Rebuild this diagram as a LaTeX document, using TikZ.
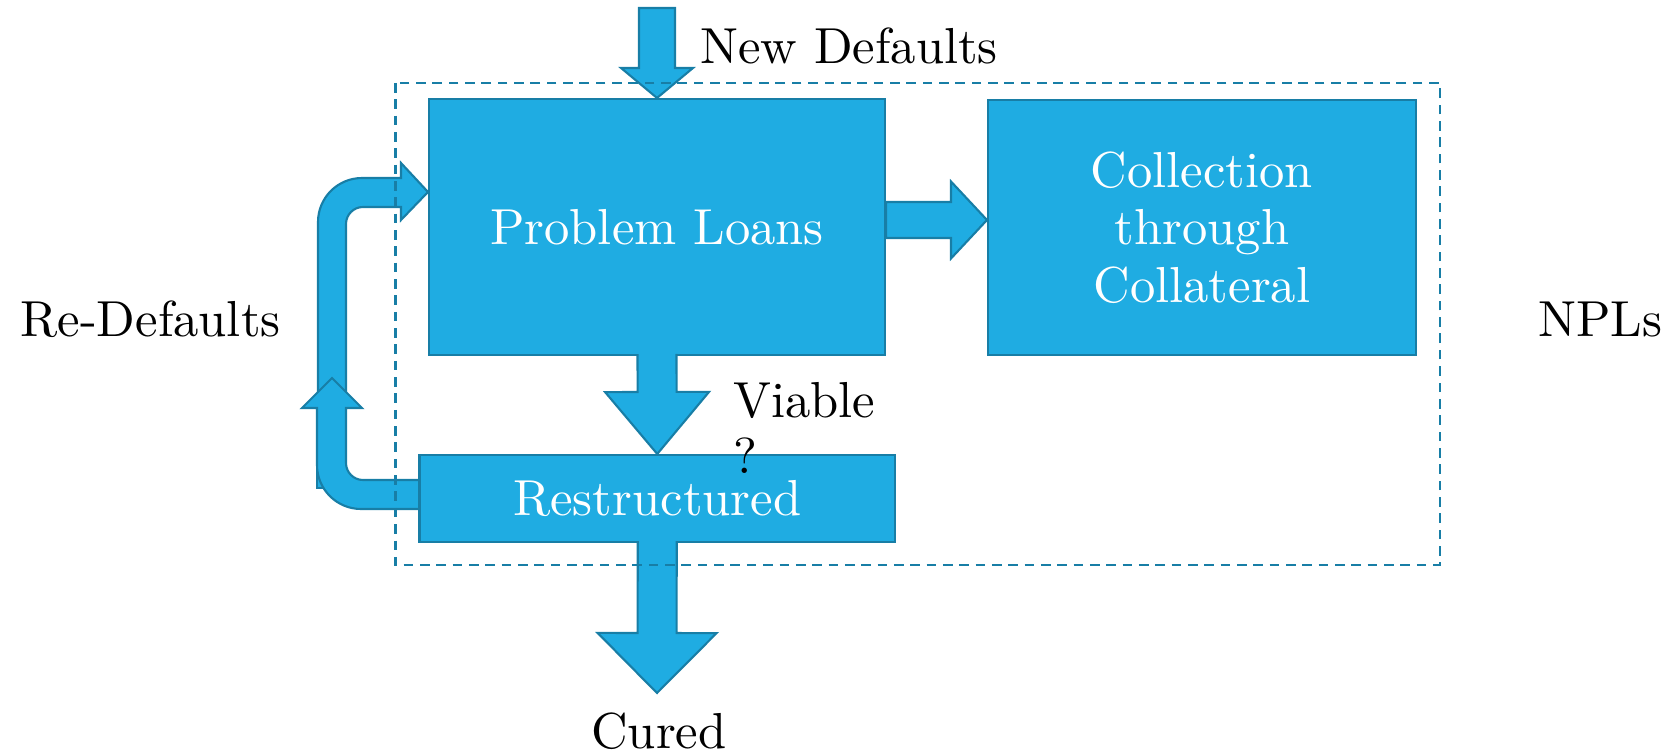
\documentclass[tikz,border=0pt]{standalone}
\usepackage{fontspec}
\setmainfont{lmroman10-regular.otf}[ItalicFont=lmroman10-italic.otf,BoldFont=lmroman10-bold.otf]
\usetikzlibrary{calc}
\definecolor{npblue}{RGB}{31,172,226}
\definecolor{npedge}{RGB}{24,126,166}
% block arrow: [path end]{tail}{tip}{half shaft}{half head}{head length}
\newcommand{\fatarrow}[6][]{%
  \filldraw[flow] ($(#2)!#4!90:(#3)$) -- ($(#3)!#6!(#2)!#4!-90:(#2)$)
    -- ($(#3)!#6!(#2)!#5!-90:(#2)$) -- (#3) -- ($(#3)!#6!(#2)!#5!90:(#2)$)
    -- ($(#3)!#6!(#2)!#4!90:(#2)$) -- ($(#2)!#4!-90:(#3)$) #1;}
\begin{document}
\begin{tikzpicture}[x=0.02cm,y=-0.02cm,line join=miter,
    font=\fontsize{28.8}{32.7}\selectfont]
  \tikzset{box/.style={draw=npedge,fill=npblue,line width=1.2pt,text=white,align=center,inner sep=0pt},
    flow/.style={draw=npedge,fill=npblue,line width=1.2pt},
    tag/.style={inner sep=0pt}}
  \useasboundingbox (0,0) rectangle (1670,756);
  % re-default loop, upper part
  \filldraw[flow] (428,192) -- (401,220) -- (401,207) -- (363,207)
    arc[start angle=270,end angle=180,radius=17] -- (346,400) -- (318,400)
    -- (318,222) arc[start angle=180,end angle=270,radius=44] -- (401,178) -- (401,163) -- cycle;
  % lower part with its up arrow
  \filldraw[flow] (317,430) rectangle (346,488);
  \filldraw[flow] (421,480) -- (363,480) arc[start angle=90,end angle=180,radius=17]
    -- (346,408) -- (362,408) -- (332,378) -- (302,408) -- (317,408)
    -- (317,465) arc[start angle=180,end angle=90,radius=44] -- (421,509);
  % boxes
  \node[box,minimum width=9.12cm,minimum height=5.12cm] (loans) at (657,227) {Problem Loans};
  \node[box,minimum width=8.56cm,minimum height=5.1cm] (collect) at (1202,227.5) {Collection\\through\\Collateral};
  \node[box,minimum width=9.51cm,minimum height=1.74cm] (restr) at (657.25,498.5) {Restructured};
  % flows
  \coordinate (ndtop) at (657,8);
  \fatarrow[-- cycle]{ndtop}{loans.north}{0.36cm}{0.72cm}{0.6cm}
  \coordinate (viablein) at ($(loans.south)+(0,-2)$);
  \fatarrow{viablein}{restr.north}{0.39cm}{1.04cm}{1.24cm}
  \coordinate (curedout) at ($(restr.south)+(0,-2)$);
  \coordinate (curedtip) at (657,693);
  \fatarrow{curedout}{curedtip}{0.39cm}{1.19cm}{1.2cm}
  \coordinate (collectout) at ($(loans.east)+(0,-7)$);
  \coordinate (collectin) at (collect.west |- collectout);
  \fatarrow[-- cycle]{collectout}{collectin}{0.36cm}{0.77cm}{0.72cm}
  % labels
  \node[tag,anchor=base west] (newdef) at (700,64) {New Defaults};
  \node[tag,anchor=base west] (redef) at (20,337) {Re-Defaults};
  \node[tag,anchor=base west] (npls) at (1538,337) {NPLs};
  \node[tag,anchor=north west,align=left,font=\fontsize{28.8}{31.9}\selectfont] (viable) at (733,382) {Viable\\?};
  \node[tag,anchor=base] (cured) at (659,748) {Cured};
  % NPL frame
  \draw[npedge,line width=1.25pt,dash pattern=on 5.5pt off 3.8pt] (395.5,83) rectangle (1440,565);
\end{tikzpicture}
\end{document}
